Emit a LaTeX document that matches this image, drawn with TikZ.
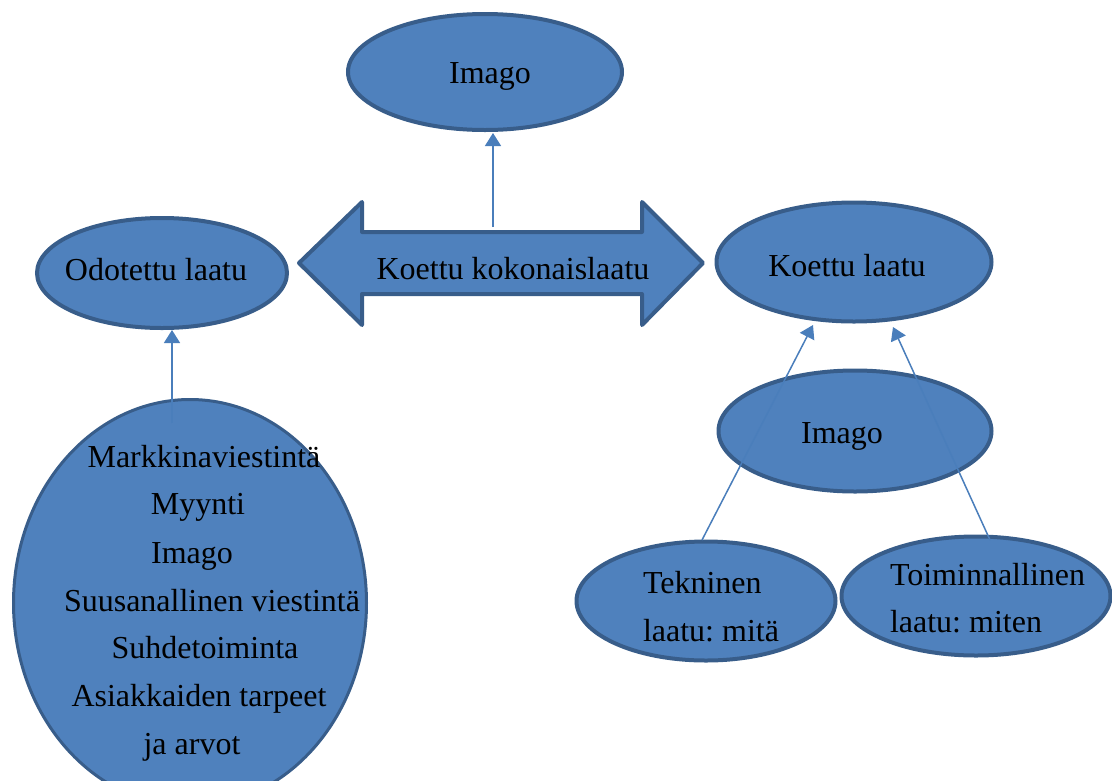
\documentclass[tikz,border=0pt]{standalone}
\usepackage{fontspec}
\setmainfont{Liberation Serif}
\frenchspacing
\usetikzlibrary{shapes.geometric,arrows.meta}
\definecolor{bfill}{HTML}{4F81BD}
\definecolor{bline}{HTML}{385D8A}
\definecolor{aline}{HTML}{4A7EBB}
\begin{document}
\begin{tikzpicture}[x=1pt,y=-1pt,
  oval/.style={ellipse,draw=bline,fill=bfill,line width=4pt,inner sep=0pt,outer sep=0pt},
  txt/.style={font=\fontsize{32}{38}\selectfont\frenchspacing,inner sep=0pt,outer sep=0pt,anchor=base},
  txtl/.style={txt,anchor=base west},
  conn/.style={draw=aline,line width=1.5pt,-{Triangle[width=16pt,length=13pt]}}]
\useasboundingbox (0,0) rectangle (1112,780);
% ellipses
\node[oval,minimum width=274pt,minimum height=116pt] (imgT) at (485,72) {};
\node[oval,minimum width=250pt,minimum height=110pt] (odo) at (162,273) {};
\node[oval,minimum width=275pt,minimum height=119pt] (koe) at (854,262) {};
\node[oval,minimum width=273pt,minimum height=121pt] (imgR) at (855,431) {};
\node[oval,minimum width=259pt,minimum height=119pt] (tek) at (706,601) {};
\node[oval,minimum width=269pt,minimum height=119pt] (toi) at (976,596) {};
\node[oval,line width=3pt,minimum width=353pt,minimum height=407pt] (big) at (190,603) {};
% double arrow
\draw[draw=bline,fill=bfill,line width=4pt,line join=round]
  (299,263) -- (362,202) -- (362,232) -- (642,232) -- (642,202) -- (703,263)
  -- (642,325) -- (642,294) -- (362,294) -- (362,325) -- cycle;
% texts
\node[txt] (timgT) at (490,83) {Imago};
\node[txt] (todo) at (156,280) {Odotettu laatu};
\node[txt] (tkok) at (513,279) {Koettu kokonaislaatu};
\node[txt] (tkoe) at (847,276) {Koettu laatu};
\node[txt] (timgR) at (842,443) {Imago};
\node[txtl] (ttek1) at (643,593) {Tekninen};
\node[txtl] (ttek2) at (643,641) {laatu: mitä};
\node[txtl] (ttoi1) at (890,585) {Toiminnallinen};
\node[txtl] (ttoi2) at (890,632) {laatu: miten};
\node[txt] (b1) at (204,467) {Markkinaviestintä};
\node[txt] (b2) at (198,514) {Myynti};
\node[txt] (b3) at (192,563) {Imago};
\node[txt] (b4) at (212,611) {Suusanallinen viestintä};
\node[txt] (b5) at (205,658) {Suhdetoiminta};
\node[txt] (b6) at (199,706) {Asiakkaiden tarpeet};
\node[txt] (b7) at (192,754) {ja arvot};
% connector end points
\coordinate (dtop) at (493,227);
\coordinate (imgTb) at (493,133);
\coordinate (bigin) at (172,423);
\coordinate (odob) at (172,330);
\coordinate (tekt) at (702,540);
\coordinate (koel) at (813,325);
\coordinate (toit) at (990,540);
\coordinate (koer) at (893,327);
% connectors
\draw[conn] (dtop) -- (imgTb);
\draw[conn] (bigin) -- (odob);
\draw[conn] (tekt) -- (koel);
\draw[conn] (toit) -- (koer);
\end{tikzpicture}
\end{document}
